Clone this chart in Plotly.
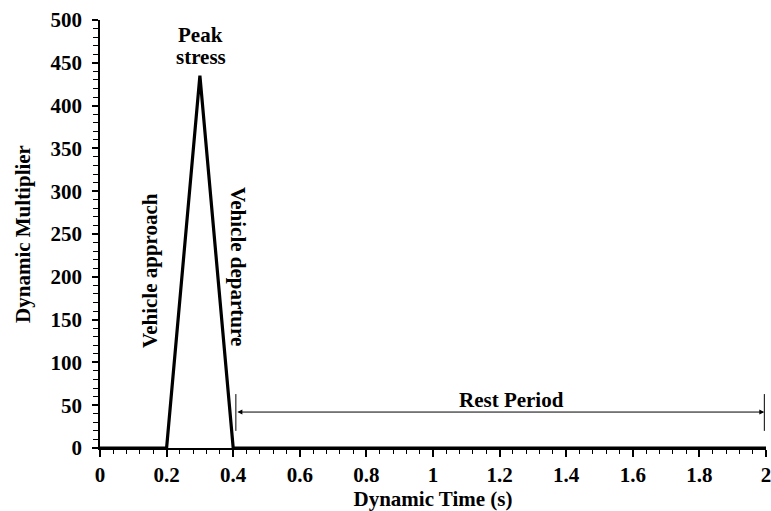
import plotly.graph_objects as go

# Data
time_s = [0, 0.2, 0.3, 0.4, 2.0]
multiplier = [0, 0, 435, 0, 0]

x_ticks = [0, 0.2, 0.4, 0.6, 0.8, 1, 1.2, 1.4, 1.6, 1.8, 2]
x_ticklabels = ["0", "0.2", "0.4", "0.6", "0.8", "1", "1.2", "1.4", "1.6", "1.8", "2"]
y_ticks = [0, 50, 100, 150, 200, 250, 300, 350, 400, 450, 500]

rest_start = 0.408
rest_end = 1.995
rest_y = 42
rest_bar_lo = 20
rest_bar_hi = 63

FONT = "Liberation Serif"

fig = go.Figure()
fig.add_trace(go.Scatter(x=time_s, y=multiplier, mode="lines",
                         line=dict(color="black", width=3.2), showlegend=False,
                         hoverinfo="skip"))

# Rest period end bars
for xv in (rest_start, rest_end):
    fig.add_trace(go.Scatter(x=[xv, xv], y=[rest_bar_lo, rest_bar_hi], mode="lines",
                             line=dict(color="black", width=1), showlegend=False,
                             hoverinfo="skip"))

# Double-headed arrow
fig.add_annotation(x=rest_end, y=rest_y, ax=rest_start, ay=rest_y,
                   xref="x", yref="y", axref="x", ayref="y",
                   showarrow=True, arrowhead=2, arrowsize=1, arrowwidth=1,
                   arrowside="end+start", arrowcolor="black", text="")

fig.add_annotation(x=1.237, y=56, xref="x", yref="y", text="<b>Rest Period</b>",
                   showarrow=False, font=dict(family=FONT, size=21, color="black"))
fig.add_annotation(x=0.302, y=482, xref="x", yref="y", text="<b>Peak</b>",
                   showarrow=False, font=dict(family=FONT, size=21, color="black"))
fig.add_annotation(x=0.302, y=457, xref="x", yref="y", text="<b>stress</b>",
                   showarrow=False, font=dict(family=FONT, size=21, color="black"))
fig.add_annotation(x=0.151, y=207, xref="x", yref="y", text="<b>Vehicle approach</b>",
                   textangle=-90, showarrow=False,
                   font=dict(family=FONT, size=21, color="black"))
fig.add_annotation(x=0.416, y=212, xref="x", yref="y", text="<b>Vehicle departure</b>",
                   textangle=90, showarrow=False,
                   font=dict(family=FONT, size=21, color="black"))

fig.update_layout(
    width=771, height=511,
    margin=dict(l=100, r=5, t=20, b=63),
    plot_bgcolor="white", paper_bgcolor="white",
    font=dict(family=FONT, size=21, color="black"),
    xaxis=dict(range=[0, 2], showgrid=False, zeroline=False, automargin=False,
               ticklabeloverflow="allow",
               showline=True, linecolor="black", linewidth=2,
               ticks="outside", ticklen=7, tickwidth=1.5, tickcolor="black",
               tickvals=x_ticks, ticktext=[f"<b>{t}</b>" for t in x_ticklabels],
               tickfont=dict(family=FONT, size=21),
               title=dict(text="<b>Dynamic Time (s)</b>", font=dict(family=FONT, size=21),
                          standoff=4),
               minor=dict(ticks="outside", tick0=0, dtick=0.04, ticklen=4, tickwidth=1.2,
                          tickcolor="black", showgrid=False)),
    yaxis=dict(range=[0, 500], showgrid=False, zeroline=False,
               showline=True, linecolor="black", linewidth=1.5,
               ticks="outside", ticklen=6, tickwidth=1.5, tickcolor="black",
               tickvals=y_ticks, ticktext=[f"<b>{v}</b>" for v in y_ticks],
               tickfont=dict(family=FONT, size=21),
               ticklabelstandoff=6,
               title=dict(text="<b>Dynamic Multiplier</b>", font=dict(family=FONT, size=21),
                          standoff=14),
               minor=dict(ticks="outside", tick0=0, dtick=10, ticklen=5, tickwidth=1.2,
                          tickcolor="black", showgrid=False)),
)

fig.write_html("out.html")
